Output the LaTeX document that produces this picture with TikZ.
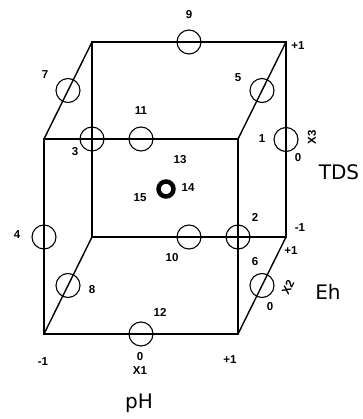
\documentclass[tikz,border=0pt]{standalone}
\usepackage{fontspec}
\setsansfont{DejaVu Sans}
\newfontfamily\lblfont{Liberation Sans}
\begin{document}
\begin{tikzpicture}[x=1pt,y=-1pt,
 edge/.style={line width=1.4pt},
 pt/.style={circle,draw,line width=1.1pt,minimum size=24pt,inner sep=0pt},
 centre/.style={circle,draw,line width=4.5pt,minimum size=15pt,inner sep=0pt},
 num/.style={font=\lblfont\bfseries\fontsize{11.5}{11.5}\selectfont,inner sep=0pt},
 axis/.style={font=\sffamily\fontsize{20}{20}\selectfont,inner sep=0pt}]
\useasboundingbox (0,0) rectangle (362,419);
% cube corners
\coordinate (F1) at (44,139);
\coordinate (F2) at (238,139);
\coordinate (F3) at (238,334);
\coordinate (F4) at (44,334);
\coordinate (B1) at (92,42);
\coordinate (B2) at (286,42);
\coordinate (B3) at (286,237);
\coordinate (B4) at (92,237);
\draw[edge] (F1)--(F2)--(F3)--(F4)--cycle;
\draw[edge] (B1)--(B2)--(B3)--(B4)--cycle;
\draw[edge] (F1)--(B1) (F2)--(B2) (F3)--(B3) (F4)--(B4);
% design points
\node[pt] (p1) at (286,139.5) {};
\node[pt] (p2) at (238,237) {};
\node[pt] (p3) at (92,139) {};
\node[pt] (p4) at (44,237) {};
\node[pt] (p5) at (262,90.5) {};
\node[pt] (p6) at (262,285.5) {};
\node[pt] (p7) at (68,90.5) {};
\node[pt] (p8) at (68,285.5) {};
\node[pt] (p9) at (189,42) {};
\node[pt] (p10) at (189,237) {};
\node[pt] (p11) at (141,139) {};
\node[pt] (p12) at (141,334) {};
\node[centre] (p14) at (166,189) {};
% point labels
\node[num] (l9) at (189,15) {9};
\node[num] (l7) at (45,75) {7};
\node[num] (l5) at (238,78) {5};
\node[num] (l11) at (141,111) {11};
\node[num] (l3) at (75,152) {3};
\node[num] (l13) at (180,160) {13};
\node[num] (l15) at (140,198) {15};
\node[num] (l14) at (188,188) {14};
\node[num] (l10) at (172,258) {10};
\node[num] (l1) at (262,139) {1};
\node[num] (l2) at (255,217) {2};
\node[num] (l6) at (255,262) {6};
\node[num] (l4) at (17,235) {4};
\node[num] (l8) at (92,290) {8};
\node[num] (l12) at (160,312) {12};
% axis levels
\node[num] (tB2) at (298,46) {+1};
\node[num] (tX3z) at (298,158) {0};
\node[num] (tX3m) at (300,228) {-1};
\node[num] (tX2p) at (291,251) {+1};
\node[num] (tX2z) at (270,307) {0};
\node[num] (tX1m) at (43,362) {-1};
\node[num] (tX1z) at (140,357) {0};
\node[num] (tX1p) at (230,360) {+1};
\node[num] (nX1) at (140,371) {X1};
\node[num,rotate=90] (nX3) at (312,137) {X3};
\node[num,rotate=63] (nX2) at (288,287) {X2};
% axis names
\node[axis] (TDS) at (339,172) {TDS};
\node[axis] (Eh) at (328,292) {Eh};
\node[axis] (pH) at (139,403) {pH};
\end{tikzpicture}
\end{document}
